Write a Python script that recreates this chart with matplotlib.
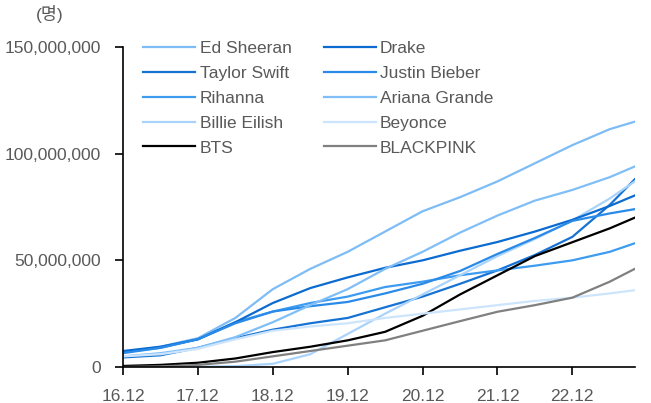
import matplotlib.pyplot as plt
from matplotlib.ticker import FuncFormatter

plt.rcParams['font.family'] = ['Liberation Sans', 'Noto Sans CJK KR', 'DejaVu Sans']

# months since 2016.12, half-year steps up to ~2023.10
months = [0, 6, 12, 18, 24, 30, 36, 42, 48, 54, 60, 66, 72, 78, 82]
tick_months = [0, 12, 24, 36, 48, 60, 72]
tick_labels = ['16.12', '17.12', '18.12', '19.12', '20.12', '21.12', '22.12']

# followers, million
ed_sheeran = [7, 9.5, 13.5, 23, 36.5, 46, 54, 63.5, 73, 79.6, 87, 95.5, 104, 111.5, 115]
drake = [7.5, 9.5, 13, 21, 30, 37, 42, 46.5, 50, 54.5, 58.6, 63.5, 69, 75.5, 80.4]
taylor_swift = [4.5, 5.5, 9, 13.5, 17.5, 20.5, 23, 28, 33, 39, 45.3, 52.5, 61, 76, 88]
justin_bieber = [6.5, 9, 13, 20.5, 26, 28.5, 30.5, 34.5, 39, 45, 53, 60.5, 68.5, 72, 74]
rihanna = [7, 9, 13, 21, 26, 30, 33, 37.5, 40, 43, 45.3, 47.5, 50, 54, 58]
ariana_grande = [5, 6.5, 9, 14, 21, 29, 36.5, 46, 54, 63, 71, 78, 83, 89, 94]
billie_eilish = [0, 0, 0.1, 0.4, 1.5, 6, 15.5, 25, 34, 43, 52, 60, 68.7, 79, 87]
beyonce = [5, 6, 8.5, 13, 17, 19, 20.5, 23, 25, 27, 29, 31, 32.5, 34.5, 36]
bts = [0.5, 1, 2, 4, 7, 9.5, 12.5, 16.5, 24, 34, 43, 52, 58.5, 65, 70]
blackpink = [0, 0.3, 1, 2.5, 5, 7.5, 10, 12.5, 17, 21.5, 25.9, 29, 32.5, 40, 46]

series = [
    ('Ed Sheeran', ed_sheeran, '#7dbcf5'),
    ('Taylor Swift', taylor_swift, '#1673d4'),
    ('Rihanna', rihanna, '#3d9cf0'),
    ('Billie Eilish', billie_eilish, '#a9d3fa'),
    ('BTS', bts, '#000000'),
    ('Drake', drake, '#0b6bd0'),
    ('Justin Bieber', justin_bieber, '#2a8ae8'),
    ('Ariana Grande', ariana_grande, '#80bef7'),
    ('Beyonce', beyonce, '#cde5fc'),
    ('BLACKPINK', blackpink, '#808080'),
]

fig = plt.figure(figsize=(6.51, 4.03), dpi=100)
ax = fig.add_axes([0.189, 0.0893, 0.786, 0.794])

for name, vals, color in series:
    ax.plot(months, [v * 1e6 for v in vals], color=color, lw=1.6, label=name)

ax.set_xlim(0, 82)
ax.set_ylim(0, 150e6)
ax.set_yticks([0, 50e6, 100e6, 150e6])
ax.yaxis.set_major_formatter(FuncFormatter(lambda v, p: f'{int(v):,}'))
ax.set_xticks(tick_months)
ax.set_xticklabels(tick_labels)

for s in ['top', 'right']:
    ax.spines[s].set_visible(False)
for s in ['left', 'bottom']:
    ax.spines[s].set_linewidth(1.2)
ax.tick_params(axis='both', direction='out', length=6, width=1.2,
               labelsize=12.5, labelcolor='#595959')
ax.tick_params(axis='y', pad=10)
ax.tick_params(axis='x', pad=10)

ax.legend(loc='upper left', bbox_to_anchor=(0.009, 1.068), ncol=2, frameon=False,
          fontsize=12.5, labelcolor='#595959', handlelength=3.0, handletextpad=0.25,
          labelspacing=0.56, columnspacing=1.85)

fig.text(0.055, 0.965, '(명)', fontsize=12.5, color='#595959', va='center')

fig.savefig('out.png', dpi=100)
